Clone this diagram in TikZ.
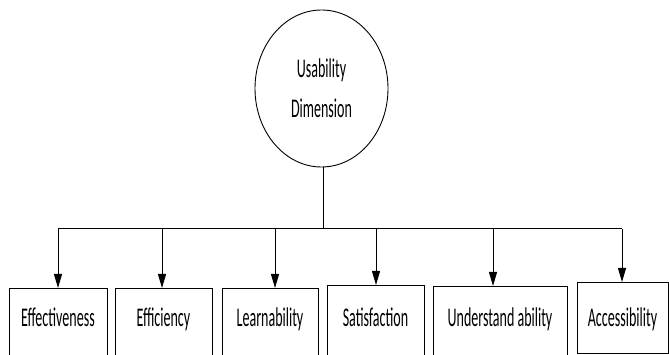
\documentclass[tikz,border=0pt]{standalone}
\usepackage{fontspec}
\setmainfont[FakeStretch=0.52]{Carlito}
\usetikzlibrary{shapes.geometric, arrows.meta, positioning}

\begin{document}
\begin{tikzpicture}[
    x=1pt, y=-1pt,
    root/.style={ellipse, draw, line width=0.9pt, minimum width=133pt, minimum height=157pt, align=center, font=\fontsize{27}{40}\selectfont},
    dimbox/.style={rectangle, draw, line width=1pt, inner sep=0pt, align=center, font=\fontsize{27}{32}\selectfont, text height=38pt, text depth=34pt, anchor=north},
    arr/.style={-{Triangle[length=14pt, width=8pt]}, line width=1pt},
    bus/.style={line width=1pt}
]
\useasboundingbox (0,0) rectangle (669,355);

\node[root] (usab) at (321.5,88.5) {Usability\\Dimension};

\node[dimbox, minimum width=98pt] (d1) at (58,288) {Effectiveness};
\node[dimbox, minimum width=97pt] (d2) at (163.5,288) {Efficiency};
\node[dimbox, minimum width=96pt] (d3) at (270,288) {Learnability};
\node[dimbox, minimum width=97pt, text height=41pt] (d4) at (375.5,285) {Satisfaction};
\node[dimbox, minimum width=134pt, text height=40pt] (d5) at (500,286) {Understand ability};
\node[dimbox, minimum width=91pt, text height=44pt, text depth=27pt] (d6) at (622.5,282) {Accessibility};

% bus line
\coordinate (t1) at (58,229);
\coordinate (t2) at (162,229);
\coordinate (t3) at (275,229);
\coordinate (t4) at (376,229);
\coordinate (t5) at (493,229);
\coordinate (t6) at (622,229);
\coordinate (hub) at (323,229);

\draw[bus] (usab.south -| hub) -- (hub);
\draw[bus] (t1) -- (t6);

\foreach \i in {1,...,6}
  \draw[arr] (t\i) -- (t\i |- d\i.north);

\end{tikzpicture}
\end{document}
